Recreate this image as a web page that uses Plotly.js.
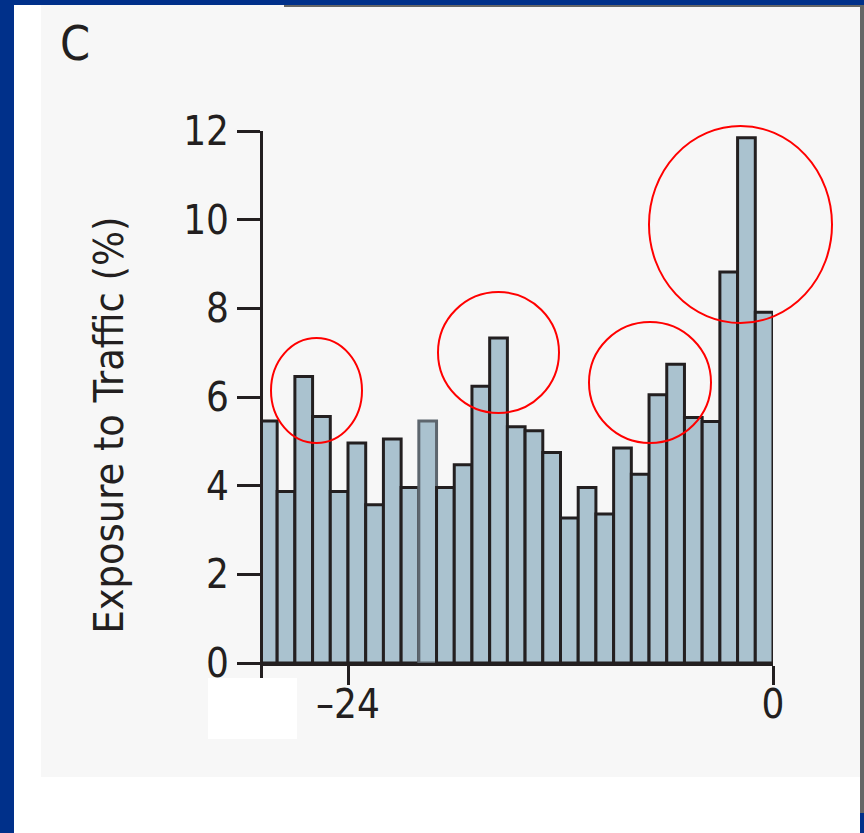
<!DOCTYPE html>
<html>
<head>
<meta charset="utf-8">
<script src="https://cdn.plot.ly/plotly-3.0.1.min.js"></script>
<style>
  html, body { margin: 0; padding: 0; }
  body { width: 864px; height: 833px; background: #00308a; position: relative; overflow: hidden; }
  .blk { position: absolute; }
  #chart { position: absolute; left: 0; top: 0; width: 864px; height: 833px; }
</style>
</head>
<body>
<div class="blk" style="left:14px;top:5px;width:846px;height:828px;background:#ffffff;"></div>
<div class="blk" style="left:41px;top:5px;width:819px;height:772px;background:#f7f7f7;"></div>
<div class="blk" style="left:284px;top:5px;width:580px;height:2px;background:#666666;"></div>
<div class="blk" style="left:860px;top:5px;width:4px;height:808px;background:#666666;"></div>
<div id="chart"></div>
<script>
// ---- data ----
const hours = [-29, -28, -27, -26, -25, -24, -23, -22, -21, -20, -19, -18, -17, -16, -15,
               -14, -13, -12, -11, -10, -9, -8, -7, -6, -5, -4, -3, -2, -1];
const exposure = [5.46, 3.87, 6.46, 5.56, 3.87, 4.96, 3.57, 5.05, 3.96, 5.46, 3.96, 4.47, 6.24, 7.33, 5.33,
                  5.24, 4.75, 3.27, 3.96, 3.36, 4.85, 4.26, 6.05, 6.74, 5.54, 5.45, 8.82, 11.85, 7.91];
const highlightedHour = -20;
const xTickVals = [-24, 0];
const xTickText = ['\u201324', '0'];
const yTickVals = [0, 2, 4, 6, 8, 10, 12];
const yTitle = 'Exposure to Traffic (%)';
const panelLabel = 'C';

// ---- layout geometry (pixels) ----
const W = 864, H = 833;
const M = { l: 263, r: 91, t: 131, b: 170 };
const PW = W - M.l - M.r, PH = H - M.t - M.b;
const px2x = px => (px - M.l) / PW;
const px2y = py => (H - M.b - py) / PH;

const FONT = '"DejaVu Sans Condensed", "DejaVu Sans", sans-serif';
const INK = '#231f20';

const lineColors = hours.map(h => h === highlightedHour ? '#5d666e' : INK);

const trace = {
  type: 'bar',
  x: hours,
  y: exposure,
  width: 1,
  offset: 0,
  marker: { color: '#aac2cf', line: { color: lineColors, width: 3 } },
  hoverinfo: 'x+y'
};

// red highlight ellipses (pixel boxes)
const ellipses = [
  [271, 338, 362, 443],
  [438, 292, 559, 413],
  [589, 322, 711, 443],
  [649, 126, 832, 323]
];
const shapes = ellipses.map(e => ({
  type: 'circle', xref: 'paper', yref: 'paper',
  x0: px2x(e[0]), x1: px2x(e[2]), y0: px2y(e[3]), y1: px2y(e[1]),
  line: { color: '#ff0000', width: 2 }, fillcolor: 'rgba(0,0,0,0)'
}));
// y-axis extension below zero
shapes.push({ type: 'line', xref: 'paper', yref: 'paper', x0: px2x(261.5), x1: px2x(261.5),
  y0: px2y(663), y1: px2y(678), line: { color: INK, width: 3 } });
// white patch
shapes.push({ type: 'rect', xref: 'paper', yref: 'paper', x0: px2x(208), x1: px2x(297),
  y0: px2y(739), y1: px2y(678), fillcolor: '#ffffff', line: { width: 0 } });

const layout = {
  width: W, height: H,
  margin: M,
  paper_bgcolor: 'rgba(0,0,0,0)',
  plot_bgcolor: 'rgba(0,0,0,0)',
  showlegend: false,
  bargap: 0,
  font: { family: FONT, color: INK, size: 40 },
  xaxis: {
    range: [-28.8, 0], showgrid: false, zeroline: false,
    showline: true, linecolor: INK, linewidth: 3,
    ticks: 'outside', ticklen: 19, tickwidth: 3, tickcolor: INK,
    tickmode: 'array', tickvals: xTickVals, ticktext: xTickText,
    ticklabelstandoff: -15,
    tickfont: { family: FONT, size: 40, color: INK }
  },
  yaxis: {
    range: [0, 12], showgrid: false, zeroline: false,
    showline: true, linecolor: INK, linewidth: 3,
    ticks: 'outside', ticklen: 23, tickwidth: 3, tickcolor: INK,
    tickmode: 'array', tickvals: yTickVals,
    tickfont: { family: FONT, size: 40, color: INK }
  },
  shapes: shapes,
  annotations: [
    { text: yTitle, xref: 'paper', yref: 'paper', x: px2x(108), y: px2y(425.5),
      xanchor: 'center', yanchor: 'middle', textangle: -90, showarrow: false,
      font: { family: FONT, size: 41, color: INK } },
    { text: panelLabel, xref: 'paper', yref: 'paper', x: px2x(74.5), y: px2y(43),
      xanchor: 'center', yanchor: 'middle', showarrow: false,
      font: { family: FONT, size: 48, color: INK } }
  ]
};

Plotly.newPlot('chart', [trace], layout, { displayModeBar: false, staticPlot: true });
</script>
</body>
</html>
